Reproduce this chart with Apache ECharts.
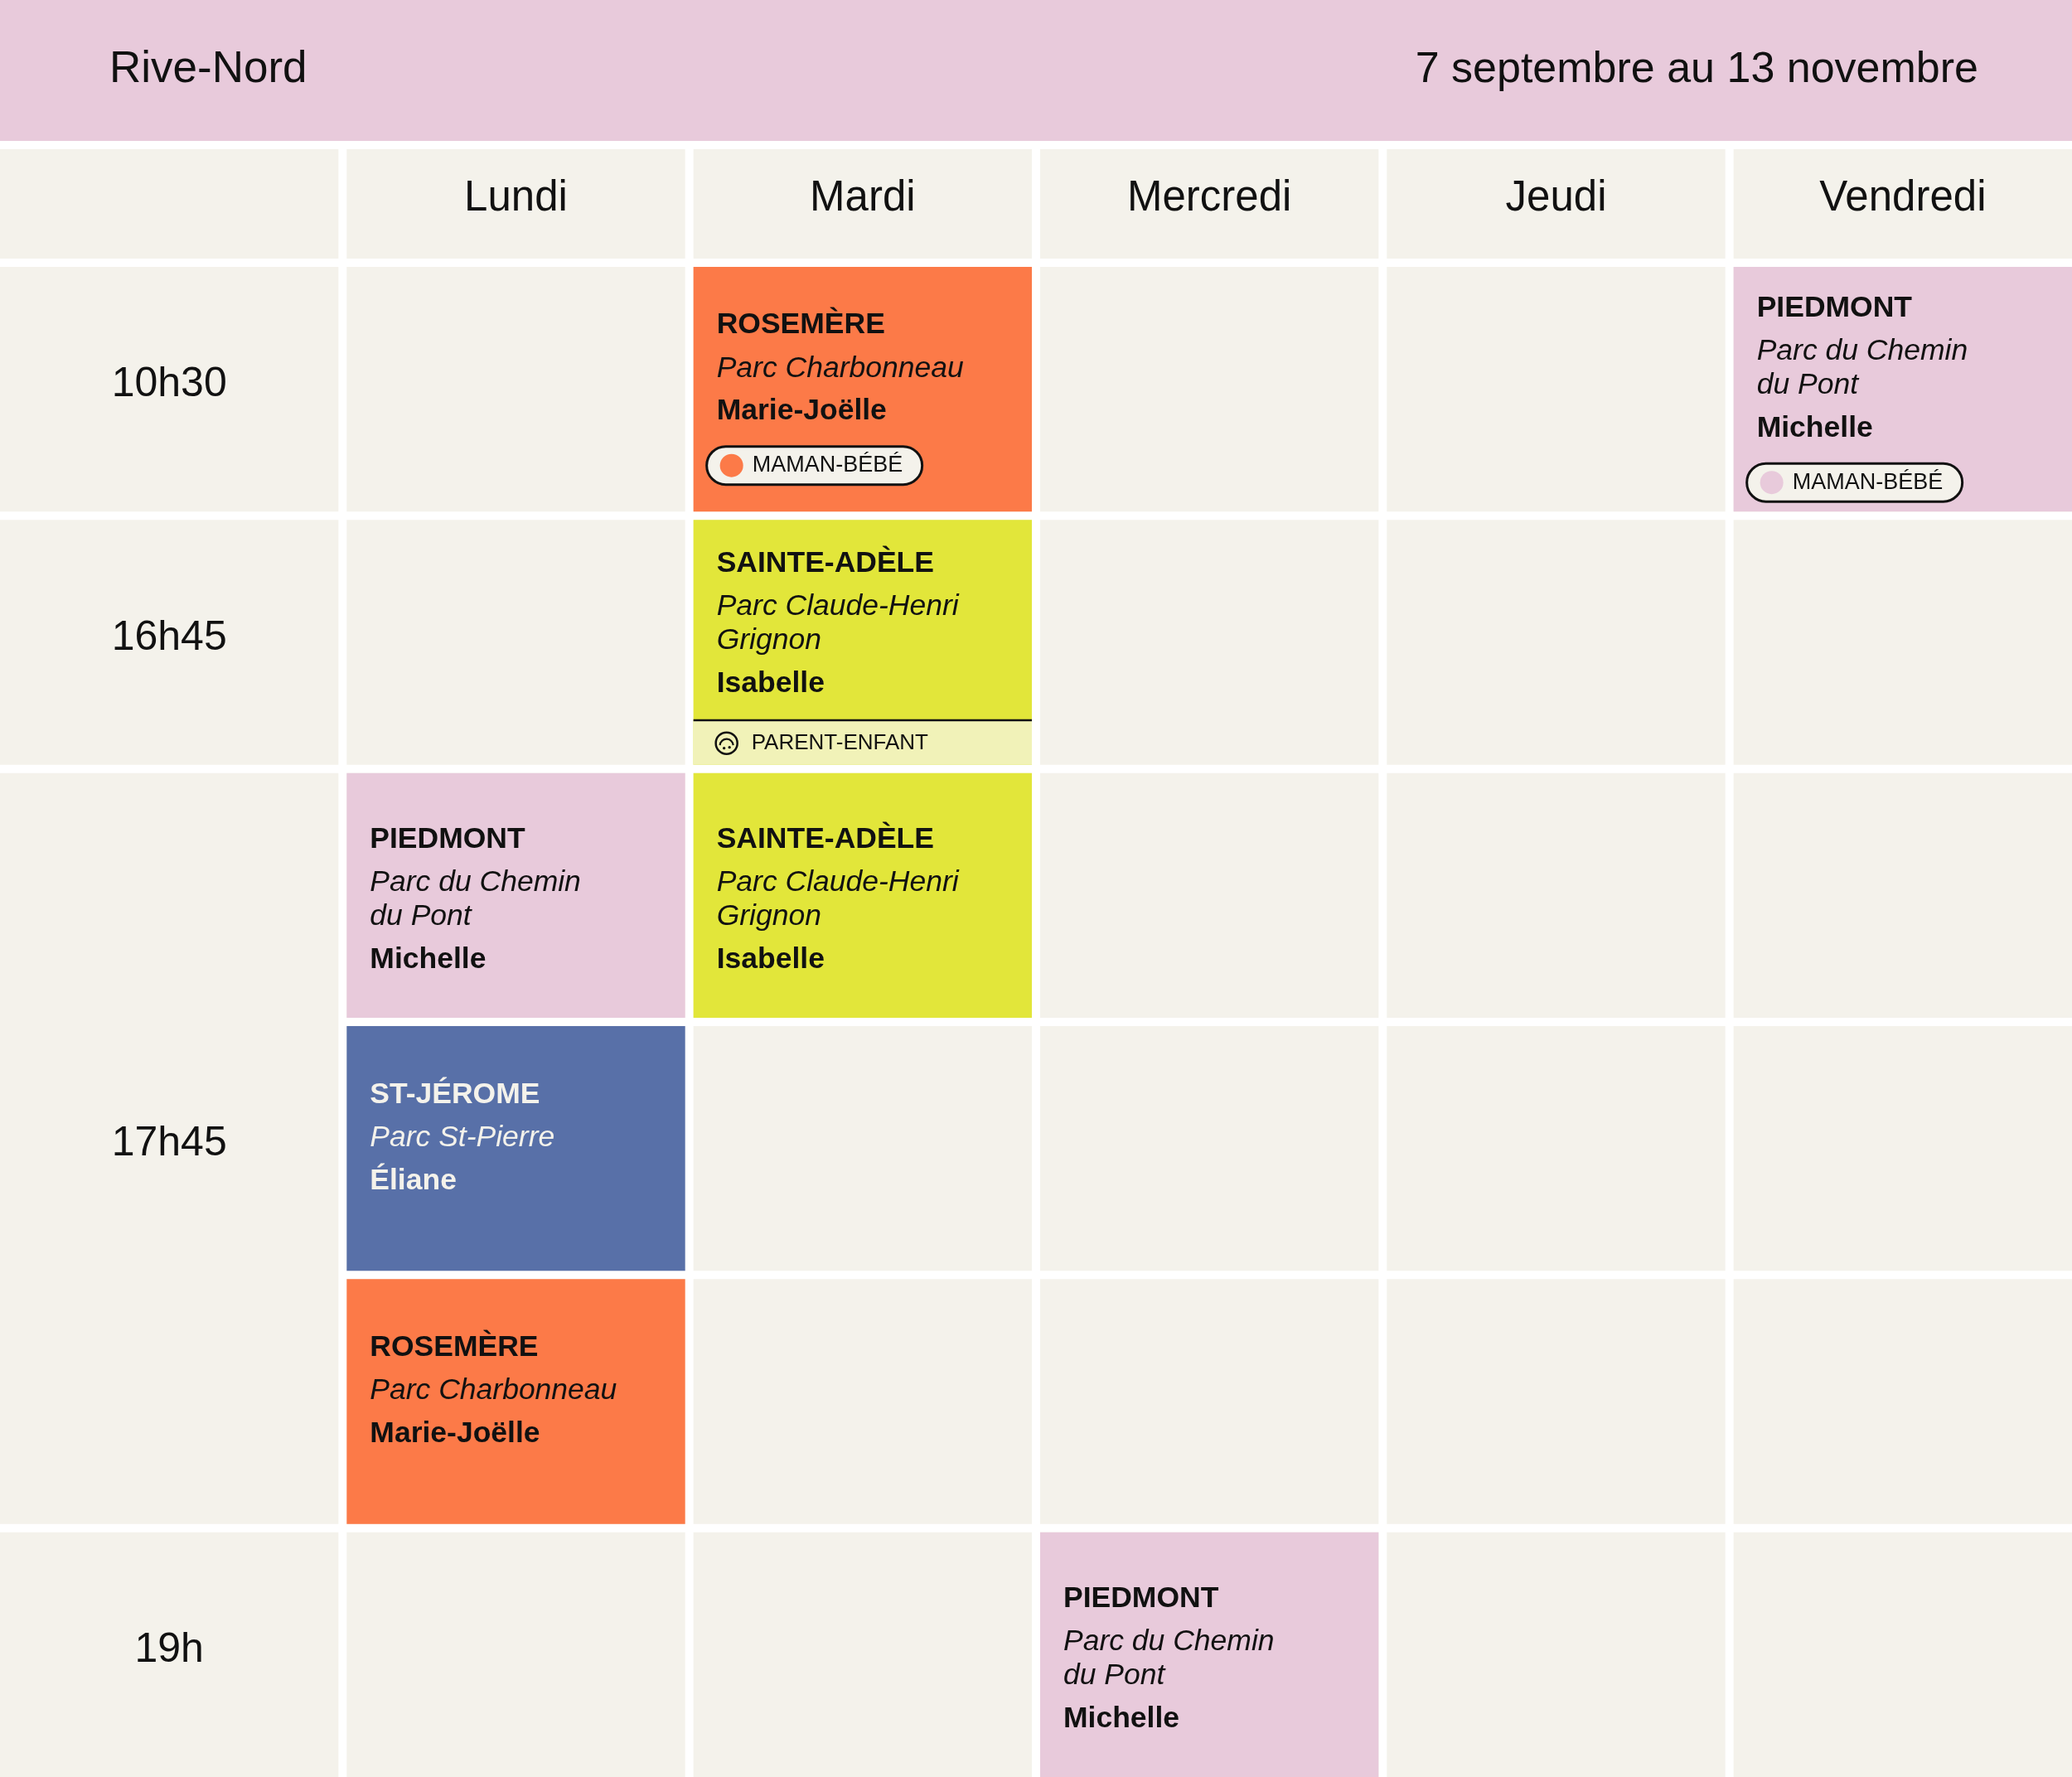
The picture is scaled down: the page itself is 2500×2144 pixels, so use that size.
<!DOCTYPE html>
<html>
<head>
<meta charset="utf-8">
<script src="https://cdn.jsdelivr.net/npm/echarts@6/dist/echarts.min.js"></script>
<style>
html,body{margin:0;padding:0;background:#ffffff}
#chart{width:2500px;height:2144px}
</style>
</head>
<body>
<div id="chart"></div>
<script>
// en-tete
var region = 'Rive-Nord';
var period = '7 septembre au 13 novembre';

// colonnes et plages horaires
var days = ['Lundi', 'Mardi', 'Mercredi', 'Jeudi', 'Vendredi'];
var times = ['10h30', '16h45', '17h45', '19h'];
var timeRow = [0, 1, 2, 5];
var timeSpan = [1, 1, 3, 1];
var slotCount = 6;

// cours
var eventDay = [1, 4, 1, 0, 1, 0, 0, 2];
var eventRow = [0, 0, 1, 2, 2, 3, 4, 5];
var eventCity = ['ROSEMÈRE', 'PIEDMONT', 'SAINTE-ADÈLE', 'PIEDMONT', 'SAINTE-ADÈLE', 'ST-JÉROME', 'ROSEMÈRE', 'PIEDMONT'];
var eventPark = ['Parc Charbonneau', 'Parc du Chemin\ndu Pont', 'Parc Claude-Henri\nGrignon', 'Parc du Chemin\ndu Pont', 'Parc Claude-Henri\nGrignon', 'Parc St-Pierre', 'Parc Charbonneau', 'Parc du Chemin\ndu Pont'];
var eventCoach = ['Marie-Joëlle', 'Michelle', 'Isabelle', 'Michelle', 'Isabelle', 'Éliane', 'Marie-Joëlle', 'Michelle'];
var eventTag = ['MAMAN-BÉBÉ', 'MAMAN-BÉBÉ', 'PARENT-ENFANT', '', '', '', '', ''];

var FONT = '"Liberation Sans", Arial, sans-serif';
var GAP = 10;
var W = 2500, H = 2144;
var BEIGE = '#F4F2EB';
var INK = '#111111';
var cityColor = {
  'ROSEMÈRE': '#FC7A48',
  'PIEDMONT': '#E8CADB',
  'SAINTE-ADÈLE': '#E2E63A',
  'ST-JÉROME': '#5870A8'
};

function txt(x, y, s, font, fill, align) {
  return {
    type: 'text',
    style: {
      x: x, y: y, text: s, font: font, fill: fill,
      align: align || 'left', verticalAlign: 'middle',
      textAlign: align || 'left', textVerticalAlign: 'middle'
    }
  };
}

function cellBox(api, col, row, span) {
  var p0 = api.coord([col, row]);
  var p1 = api.coord([col + 1, row + span]);
  return { x: p0[0], y: p0[1], w: p1[0] - p0[0] - GAP, h: p1[1] - p0[1] - GAP };
}

// la derniere case se termine au bord : l'axe s'arrete avant la derniere gouttiere
function axisMax(n, len) {
  return n * len / (len + GAP);
}

// cases du corps
var bodyCells = [];
for (var i = 0; i < times.length; i++) {
  bodyCells.push([0, timeRow[i], timeSpan[i], times[i]]);
}
for (var c = 1; c <= days.length; c++) {
  for (var r = 0; r < slotCount; r++) {
    bodyCells.push([c, r, 1, '']);
  }
}

var headCells = [[0, '']];
for (var d = 0; d < days.length; d++) headCells.push([d + 1, days[d]]);

var eventData = [];
for (var e = 0; e < eventCity.length; e++) {
  eventData.push([eventDay[e] + 1, eventRow[e], e]);
}

var headTop = 180, headH = 132, bodyTop = 322;
var bodyH = H - bodyTop;

var chart = echarts.init(document.getElementById('chart'));

chart.setOption({
  animation: false,
  backgroundColor: '#ffffff',
  graphic: [
    { type: 'rect', shape: { x: 0, y: 0, width: W, height: 170 }, style: { fill: '#E8CADB' }, z: 0 },
    { type: 'text', left: 132, top: 58, style: { text: region, font: '53px ' + FONT, fill: INK } },
    { type: 'text', right: 113, top: 59, style: { text: period, font: '52px ' + FONT, fill: INK } }
  ],
  grid: [
    { left: 0, top: headTop, width: W, height: headH },
    { left: 0, top: bodyTop, width: W, height: bodyH }
  ],
  xAxis: [
    { type: 'value', gridIndex: 0, min: 0, max: axisMax(6, W), show: false },
    { type: 'value', gridIndex: 1, min: 0, max: axisMax(6, W), show: false }
  ],
  yAxis: [
    { type: 'value', gridIndex: 0, min: 0, max: axisMax(1, headH), inverse: true, show: false },
    { type: 'value', gridIndex: 1, min: 0, max: axisMax(slotCount, bodyH), inverse: true, show: false }
  ],
  series: [
    {
      type: 'custom',
      xAxisIndex: 0, yAxisIndex: 0,
      data: headCells,
      renderItem: function (params, api) {
        var b = cellBox(api, api.value(0), 0, 1);
        var label = headCells[params.dataIndex][1];
        return {
          type: 'group',
          children: [
            { type: 'rect', shape: { x: b.x, y: b.y, width: b.w, height: b.h }, style: { fill: BEIGE } },
            txt(b.x + b.w / 2, b.y + b.h / 2 - 6, label, '51px ' + FONT, INK, 'center')
          ]
        };
      }
    },
    {
      type: 'custom',
      xAxisIndex: 1, yAxisIndex: 1,
      data: bodyCells,
      renderItem: function (params, api) {
        var cell = bodyCells[params.dataIndex];
        var b = cellBox(api, cell[0], cell[1], cell[2]);
        var kids = [{ type: 'rect', shape: { x: b.x, y: b.y, width: b.w, height: b.h }, style: { fill: BEIGE } }];
        if (cell[3]) kids.push(txt(b.x + b.w / 2, b.y + b.h / 2 - 5, cell[3], '50px ' + FONT, INK, 'center'));
        return { type: 'group', children: kids };
      }
    },
    {
      type: 'custom',
      xAxisIndex: 1, yAxisIndex: 1,
      z: 3,
      data: eventData,
      renderItem: function (params, api) {
        var k = api.value(2);
        var b = cellBox(api, api.value(0), api.value(1), 1);
        var city = eventCity[k];
        var tag = eventTag[k];
        var fill = cityColor[city];
        var ink = city === 'ST-JÉROME' ? '#F4F2EB' : INK;
        var kids = [{ type: 'rect', shape: { x: b.x, y: b.y, width: b.w, height: b.h }, style: { fill: fill } }];

        var areaH = b.h;
        if (tag === 'PARENT-ENFANT') {
          var sy = b.y + b.h - 54;
          areaH = b.h - 54;
          kids.push({ type: 'rect', shape: { x: b.x, y: sy, width: b.w, height: 54 }, style: { fill: '#F1F2B8' } });
          kids.push({ type: 'rect', shape: { x: b.x, y: sy - 1, width: b.w, height: 2.5 }, style: { fill: INK } });
          var cx = b.x + 40, cy = sy + 28;
          kids.push({ type: 'circle', shape: { cx: cx, cy: cy, r: 13 }, style: { fill: 'none', stroke: INK, lineWidth: 2.5 } });
          kids.push({ type: 'arc', shape: { cx: cx, cy: cy + 3, r: 8, startAngle: Math.PI * 1.02, endAngle: Math.PI * 1.98 }, style: { fill: 'none', stroke: INK, lineWidth: 2.2 } });
          kids.push({ type: 'circle', shape: { cx: cx - 3, cy: cy + 6, r: 1.7 }, style: { fill: INK } });
          kids.push({ type: 'circle', shape: { cx: cx + 3.5, cy: cy + 5, r: 1.7 }, style: { fill: INK } });
          kids.push(txt(b.x + 70, cy, tag, '26px ' + FONT, INK, 'left'));
        }

        // lignes de texte
        var parkLines = eventPark[k].split('\n');
        var lines = [{ t: city, f: 'bold 35.5px ' + FONT, y: 0 }];
        var y = 0;
        for (var j = 0; j < parkLines.length; j++) {
          y += j === 0 ? 52 : 41;
          lines.push({ t: parkLines[j], f: 'italic 35.5px ' + FONT, y: y });
        }
        y += 52;
        lines.push({ t: eventCoach[k], f: 'bold 35.5px ' + FONT, y: y });
        var top = -13;
        var bottom = Math.max(y + 13, top + 165);
        var pillY = null;
        if (tag && tag !== 'PARENT-ENFANT') {
          pillY = y + 65;
          bottom = pillY + 8;
        }
        var base = b.y + areaH / 2 - (top + bottom) / 2 + 5;
        var tx = b.x + 28;
        lines.forEach(function (l) {
          kids.push(txt(tx, base + l.y, l.t, l.f, ink, 'left'));
        });
        if (pillY !== null) {
          var py = base + pillY;
          kids.push({ type: 'rect', shape: { x: b.x + 16, y: py - 23, width: 260, height: 46, r: 23 }, style: { fill: '#F4F2EB', stroke: INK, lineWidth: 3 } });
          kids.push({ type: 'circle', shape: { cx: b.x + 46, cy: py, r: 14 }, style: { fill: fill } });
          kids.push(txt(b.x + 71, py, tag, '27px ' + FONT, INK, 'left'));
        }
        return { type: 'group', children: kids };
      }
    }
  ]
});
</script>
</body>
</html>
